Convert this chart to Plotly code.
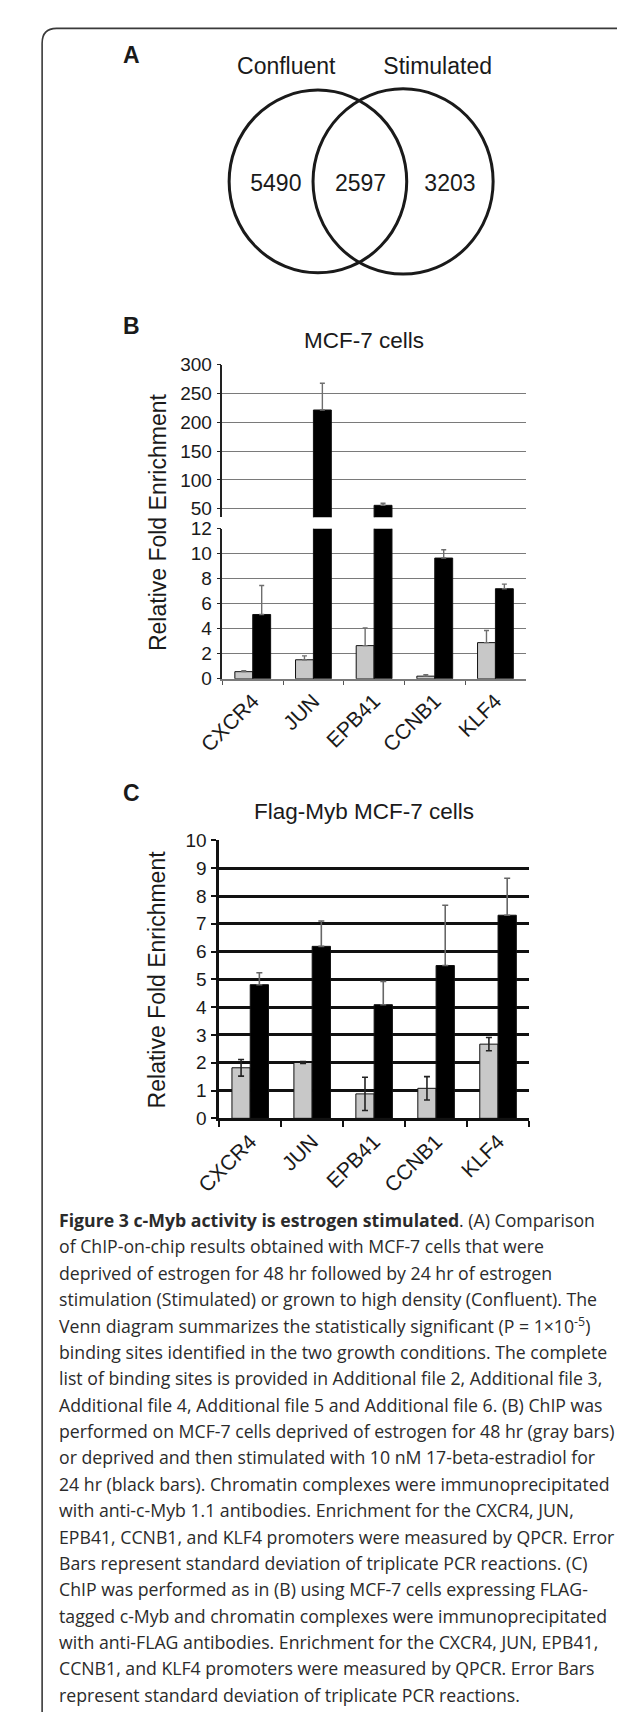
import plotly.graph_objects as go

W, H = 625, 1712

# ---------------- data ----------------
categories = ["CXCR4", "JUN", "EPB41", "CCNB1", "KLF4"]

b_deprived = [0.57, 1.52, 2.65, 0.21, 2.89]
b_deprived_err = [0.08, 0.31, 1.42, 0.12, 0.97]
b_stimulated = [5.14, 221.3, 55.8, 9.65, 7.20]
b_stimulated_err = [2.32, 46.4, 3.7, 0.67, 0.37]

c_deprived = [1.82, 2.01, 0.88, 1.08, 2.67]
c_deprived_err = [0.30, 0.03, 0.60, 0.42, 0.24]
c_stimulated = [4.81, 6.19, 4.09, 5.50, 7.31]
c_stimulated_err = [0.43, 0.91, 0.84, 2.17, 1.33]

b_upper_ticks = [50, 100, 150, 200, 250, 300]
b_lower_ticks = [0, 2, 4, 6, 8, 10, 12]
c_ticks = [0, 1, 2, 3, 4, 5, 6, 7, 8, 9, 10]

venn_sets = ["Confluent", "Stimulated"]
venn_counts = [5490, 2597, 3203]

caption_lines = [
    "<b>Figure 3 c-Myb activity is estrogen stimulated</b>. (A) Comparison",
    "of ChIP-on-chip results obtained with MCF-7 cells that were",
    "deprived of estrogen for 48 hr followed by 24 hr of estrogen",
    "stimulation (Stimulated) or grown to high density (Confluent). The",
    "Venn diagram summarizes the statistically significant (P = 1×10<sup>-5</sup>)",
    "binding sites identified in the two growth conditions. The complete",
    "list of binding sites is provided in Additional file 2, Additional file 3,",
    "Additional file 4, Additional file 5 and Additional file 6. (B) ChIP was",
    "performed on MCF-7 cells deprived of estrogen for 48 hr (gray bars)",
    "or deprived and then stimulated with 10 nM 17-beta-estradiol for",
    "24 hr (black bars). Chromatin complexes were immunoprecipitated",
    "with anti-c-Myb 1.1 antibodies. Enrichment for the CXCR4, JUN,",
    "EPB41, CCNB1, and KLF4 promoters were measured by QPCR. Error",
    "Bars represent standard deviation of triplicate PCR reactions. (C)",
    "ChIP was performed as in (B) using MCF-7 cells expressing FLAG-",
    "tagged c-Myb and chromatin complexes were immunoprecipitated",
    "with anti-FLAG antibodies. Enrichment for the CXCR4, JUN, EPB41,",
    "CCNB1, and KLF4 promoters were measured by QPCR. Error Bars",
    "represent standard deviation of triplicate PCR reactions.",
]

# ---------------- helpers ----------------
def px(xp):
    return xp / W


def py(yp):
    return 1 - yp / H


FONT = "Liberation Sans, Arial, Helvetica, sans-serif"
GRAY = "#c8c8c8"
BLACK = "#000000"
OUTLINE = "#111111"

fig = go.Figure()

# ---------------- panel B (broken axis: lower 0-12, upper 35-300) ----------------
for xa, ya in (("x", "y"), ("x2", "y2")):
    fig.add_trace(go.Bar(
        x=categories, y=b_deprived, xaxis=xa, yaxis=ya,
        marker=dict(color=GRAY, line=dict(color=OUTLINE, width=1)),
        error_y=dict(type="data", array=b_deprived_err, symmetric=False,
                     arrayminus=[0] * len(categories),
                     color="#6e6e6e", thickness=1.4, width=2.5),
        hoverinfo="skip", showlegend=False,
    ))
    fig.add_trace(go.Bar(
        x=categories, y=b_stimulated, xaxis=xa, yaxis=ya,
        marker=dict(color=BLACK, line=dict(color=OUTLINE, width=1)),
        error_y=dict(type="data", array=b_stimulated_err, symmetric=False,
                     arrayminus=[0] * len(categories),
                     color="#6e6e6e", thickness=1.4, width=2.5),
        hoverinfo="skip", showlegend=False,
    ))

# ---------------- panel C ----------------
fig.add_trace(go.Bar(
    x=categories, y=c_deprived, xaxis="x3", yaxis="y3",
    marker=dict(color=GRAY, line=dict(color=OUTLINE, width=1)),
    error_y=dict(type="data", array=c_deprived_err, symmetric=True,
                 color="#222222", thickness=1.6, width=3),
    hoverinfo="skip", showlegend=False,
))
fig.add_trace(go.Bar(
    x=categories, y=c_stimulated, xaxis="x3", yaxis="y3",
    marker=dict(color=BLACK, line=dict(color=OUTLINE, width=1)),
    error_y=dict(type="data", array=c_stimulated_err, symmetric=False,
                 arrayminus=[0] * len(categories),
                 color="#666666", thickness=1.6, width=3),
    hoverinfo="skip", showlegend=False,
))

# ---------------- panel A (Venn) ----------------
venn_cy = 165.5
c1x, r1 = 296.8, 92.5
c2x, r2 = 385.5, 93.8
region_x = [
    ((c1x - r1) + (c2x - r2)) / 2 + 5,
    (c1x + c2x) / 2,
    ((c1x + r1) + (c2x + r2)) / 2,
]
fig.add_trace(go.Scatter(
    x=region_x, y=[venn_cy + 4] * 3, xaxis="x4", yaxis="y4",
    mode="text", text=[str(v) for v in venn_counts],
    textfont=dict(family=FONT, size=23, color="#1a1a1a"),
    hoverinfo="skip", showlegend=False,
))
fig.add_trace(go.Scatter(
    x=[c1x - 33, c2x + 36], y=[50.5, 50.5], xaxis="x4", yaxis="y4",
    mode="text", text=venn_sets,
    textfont=dict(family=FONT, size=23, color="#1a1a1a"),
    hoverinfo="skip", showlegend=False,
))

shapes = []
for cx, r in ((c1x, r1), (c2x, r2)):
    shapes.append(dict(type="circle", xref="x4", yref="y4",
                       x0=cx - r, x1=cx + r, y0=venn_cy - r, y1=venn_cy + r,
                       line=dict(color="#1a1a1a", width=3)))

# outer frame (left + top edges with rounded corner)
bx, by, rad = 9.5, 10.5, 15
shapes.append(dict(
    type="path", xref="paper", yref="paper",
    path=(f"M {px(bx)} {py(H + 5)} L {px(bx)} {py(by + rad)} "
          f"Q {px(bx)} {py(by)} {px(bx + rad)} {py(by)} L {px(W + 5)} {py(by)}"),
    line=dict(color="#3a3a3a", width=1.6),
))

# ---------------- axes ----------------
tickfont = dict(family=FONT, size=19, color="#1a1a1a")
xtickfont = dict(family=FONT, size=21, color="#1a1a1a")

b_xdom = [px(197.3), px(513.3)]
c_xdom = [px(194), px(516.7)]

layout_axes = dict(
    xaxis=dict(domain=b_xdom, anchor="y", type="category",
               showline=True, linecolor="#7a7a7a", linewidth=1.5,
               ticks="outside", tickson="boundaries", ticklen=4, tickwidth=1.2,
               tickcolor="#555555", tickangle=-45, tickfont=xtickfont,
               showgrid=False, zeroline=False, fixedrange=True),
    yaxis=dict(domain=[py(669), py(517)], anchor="x", range=[0, 12],
               tickvals=b_lower_ticks, showline=True, linecolor="#222222",
               linewidth=1.5, ticks="outside", ticklen=4, tickcolor="#222222",
               showgrid=True, gridcolor="#7a7a7a", gridwidth=1.4,
               zeroline=False, tickfont=tickfont, ticklabelstandoff=1),
    xaxis2=dict(domain=b_xdom, anchor="y2", matches="x", type="category",
                showline=False, ticks="", showticklabels=False,
                showgrid=False, zeroline=False),
    yaxis2=dict(domain=[py(505.5), py(351)], anchor="x2", range=[35, 300],
                tickvals=b_upper_ticks, showline=True, linecolor="#222222",
                linewidth=1.5, ticks="outside", ticklen=4, tickcolor="#222222",
                showgrid=True, gridcolor="#7a7a7a", gridwidth=1.4,
                zeroline=False, tickfont=tickfont, ticklabelstandoff=1),
    xaxis3=dict(domain=c_xdom, anchor="y3", type="category",
                showline=True, linecolor="#111111", linewidth=2.5,
                ticks="outside", tickson="boundaries", ticklen=6, tickwidth=2,
                tickcolor="#111111", tickangle=-45, tickfont=xtickfont,
                showgrid=False, zeroline=False),
    yaxis3=dict(domain=[py(1114), py(832.7)], anchor="x3", range=[0, 10],
                tickvals=c_ticks, showline=True, linecolor="#111111",
                linewidth=2.5, ticks="outside", ticklen=5, tickwidth=2,
                tickcolor="#111111", showgrid=True, gridcolor="#111111",
                gridwidth=2.5, zeroline=False, tickfont=tickfont,
                ticklabelstandoff=1),
    xaxis4=dict(domain=[0, 1], anchor="y4", range=[0, W], visible=False),
    yaxis4=dict(domain=[py(330), 1], anchor="x4", range=[330, 0], visible=False),
)

# ---------------- annotations ----------------
ann = []
for letter, yy in (("A", 37.5), ("B", 312), ("C", 785)):
    ann.append(dict(text=f"<b>{letter}</b>", x=px(103), y=py(yy), xref="paper",
                    yref="paper", showarrow=False, xanchor="center",
                    yanchor="middle",
                    font=dict(family=FONT, size=23, color="#1a1a1a")))
for title, yy in (("MCF-7 cells", 327), ("Flag-Myb MCF-7 cells", 803.5)):
    ann.append(dict(text=title, x=px(345), y=py(yy), xref="paper", yref="paper",
                    showarrow=False, xanchor="center", yanchor="middle",
                    font=dict(family=FONT, size=22.5, color="#1a1a1a")))
for yy in (510, 973):
    ann.append(dict(text="Relative Fold Enrichment", textangle=-90,
                    x=px(129.5), y=py(yy), xref="paper", yref="paper",
                    showarrow=False, xanchor="center", yanchor="middle",
                    font=dict(family=FONT, size=23, color="#1a1a1a")))

cap_y0, cap_dy = 1217, 26.7
for i, line in enumerate(caption_lines):
    ann.append(dict(text=line, x=px(25), y=py(cap_y0 + i * cap_dy),
                    xref="paper", yref="paper", showarrow=False,
                    xanchor="left", yanchor="middle", align="left",
                    font=dict(family="Open Sans, Noto Sans, sans-serif",
                              size=17.7, color="#2b2b2b")))

fig.update_layout(
    width=W, height=H, margin=dict(l=0, r=0, t=0, b=0),
    paper_bgcolor="white", plot_bgcolor="rgba(0,0,0,0)",
    barmode="group", bargap=0.41, bargroupgap=0,
    showlegend=False, hovermode=False,
    shapes=shapes, annotations=ann,
    **layout_axes,
)

fig.write_html("out.html")
